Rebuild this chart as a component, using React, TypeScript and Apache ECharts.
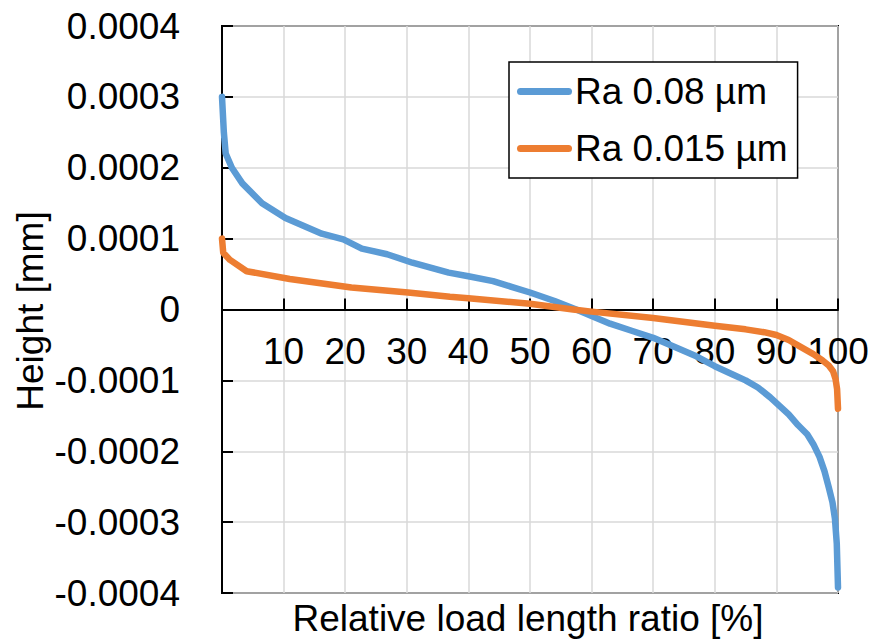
import React, { useEffect, useRef } from "react";
import * as echarts from "echarts";

const seriesNames = ["Ra 0.08 µm", "Ra 0.015 µm"];

const blueX = [0, 0.3, 0.6, 1.6, 3.3, 6.5, 10.3, 16.2, 19.7, 22.7, 26.8, 30.9, 36.8, 40, 44, 47, 50, 54, 57.5, 60, 63, 66.5, 70, 73.8, 77, 80, 83, 85, 87, 89, 90.5, 92, 93.5, 95, 96, 97, 97.8, 98.5, 99.1, 99.5, 99.8, 100];
const blueY = [0.0003, 0.00025, 0.00022, 0.0002, 0.000178, 0.00015, 0.000129, 0.000107, 0.000099, 0.000086, 0.000078, 0.000066, 0.000052, 0.000047, 0.00004, 0.000032, 0.000024, 0.000012, 0, -0.000009, -0.00002, -0.00003, -0.00004, -0.000054, -0.000066, -0.00008, -0.000092, -0.0001, -0.00011, -0.000124, -0.000136, -0.000148, -0.000163, -0.000176, -0.00019, -0.000208, -0.000228, -0.000251, -0.000272, -0.000295, -0.00033, -0.000392];

const orangeX = [0, 0.2, 1.3, 4, 11, 21, 30.2, 37, 40, 50, 57, 60, 70, 80, 85, 88, 90, 92, 94, 96, 97.5, 98.5, 99.2, 99.6, 99.85, 100];
const orangeY = [0.0001, 0.00008, 0.00007, 0.000054, 0.000043, 0.000031, 0.000024, 0.000018, 0.000016, 0.000008, 0, -0.000003, -0.000012, -0.000023, -0.000028, -0.000032, -0.000036, -0.000043, -0.000053, -0.000063, -0.000072, -0.000079, -0.000087, -0.000098, -0.000112, -0.00014];

const xName = "Relative load length ratio [%]";
const yName = "Height [mm]";

const FONT = "'Liberation Sans', Arial, sans-serif";
const FS = 37;
const GRID_TOP = 26;
const GRID_BOTTOM = 50;
const CHART_H = 643;
const ZERO_OFFSET = (CHART_H - GRID_TOP - GRID_BOTTOM) / 2;

const LEGEND_ICON = "path://M3.5,0 L51.5,0 A3.5,3.5 0 0 1 51.5,7 L3.5,7 A3.5,3.5 0 0 1 3.5,0 Z";

export default function App() {
  const ref = useRef<HTMLDivElement>(null);
  useEffect(() => {
    if (!ref.current) return;
    const chart = echarts.init(ref.current, null, { renderer: "svg" });
    const pairs = (xs: number[], ys: number[]) => xs.map((x, i) => [x, ys[i]]);
    chart.setOption({
      animation: false,
      backgroundColor: "#fff",
      textStyle: { fontFamily: FONT },
      grid: {
        left: 222,
        right: 40,
        top: GRID_TOP,
        bottom: GRID_BOTTOM,
        show: true,
        borderColor: "#000",
        borderWidth: 2,
        backgroundColor: "transparent",
        containLabel: false,
        outerBoundsMode: "none",
      },
      xAxis: {
        type: "value",
        min: 0,
        max: 100,
        interval: 10,
        offset: -ZERO_OFFSET,
        axisLine: { onZero: false, lineStyle: { color: "#000", width: 2 } },
        axisTick: { show: true, inside: true, length: 11, lineStyle: { color: "#000", width: 2 } },
        axisLabel: {
          showMinLabel: false,
          hideOverlap: false,
          margin: 23,
          color: "#000",
          fontSize: FS,
          fontFamily: FONT,
        },
        splitLine: { show: true, lineStyle: { color: "#D9D9D9", width: 1.5 } },
      },
      yAxis: {
        type: "value",
        min: -0.0004,
        max: 0.0004,
        interval: 0.0001,
        axisLine: { show: true, onZero: false, lineStyle: { color: "#000", width: 2 } },
        axisTick: { show: true, inside: true, length: 11, lineStyle: { color: "#000", width: 2 } },
        axisLabel: {
          margin: 42,
          color: "#000",
          fontSize: FS,
          fontFamily: FONT,
          formatter: (v: number) => (Math.abs(v) < 1e-12 ? "0" : v.toFixed(4)),
        },
        splitLine: { show: true, lineStyle: { color: "#D9D9D9", width: 1.5 } },
      },
      legend: {
        orient: "vertical",
        left: 509,
        top: 62,
        padding: [11, 10, 11, 8],
        itemGap: 20,
        itemWidth: 55,
        itemHeight: 7,
        backgroundColor: "#fff",
        borderColor: "#000",
        borderWidth: 1.5,
        borderRadius: 0,
        textStyle: { color: "#000", fontSize: FS, fontFamily: FONT, padding: [0, 0, 0, -2] },
        data: seriesNames.map((n) => ({ name: n, icon: LEGEND_ICON })),
      },
      series: [
        {
          name: seriesNames[0],
          type: "line",
          data: pairs(blueX, blueY),
          showSymbol: false,
          symbol: "none",
          lineStyle: { color: "#5B9BD5", width: 6.5, cap: "round", join: "round" },
          itemStyle: { color: "#5B9BD5" },
          z: 3,
        },
        {
          name: seriesNames[1],
          type: "line",
          data: pairs(orangeX, orangeY),
          showSymbol: false,
          symbol: "none",
          lineStyle: { color: "#ED7D31", width: 6.5, cap: "round", join: "round" },
          itemStyle: { color: "#ED7D31" },
          z: 4,
        },
      ],
      graphic: [
        {
          type: "text",
          x: 528,
          y: 618,
          style: {
            text: xName,
            fill: "#000",
            font: `${FS}px ${FONT}`,
            align: "center",
            verticalAlign: "middle",
          },
        },
        {
          type: "text",
          x: 30,
          y: 311,
          rotation: Math.PI / 2,
          style: {
            text: yName,
            fill: "#000",
            font: `${FS}px ${FONT}`,
            align: "center",
            verticalAlign: "middle",
          },
        },
      ],
    });
    return () => chart.dispose();
  }, []);
  return <div ref={ref} style={{ width: 878, height: 643, position: "absolute", left: 0, top: 0 }} />;
}
